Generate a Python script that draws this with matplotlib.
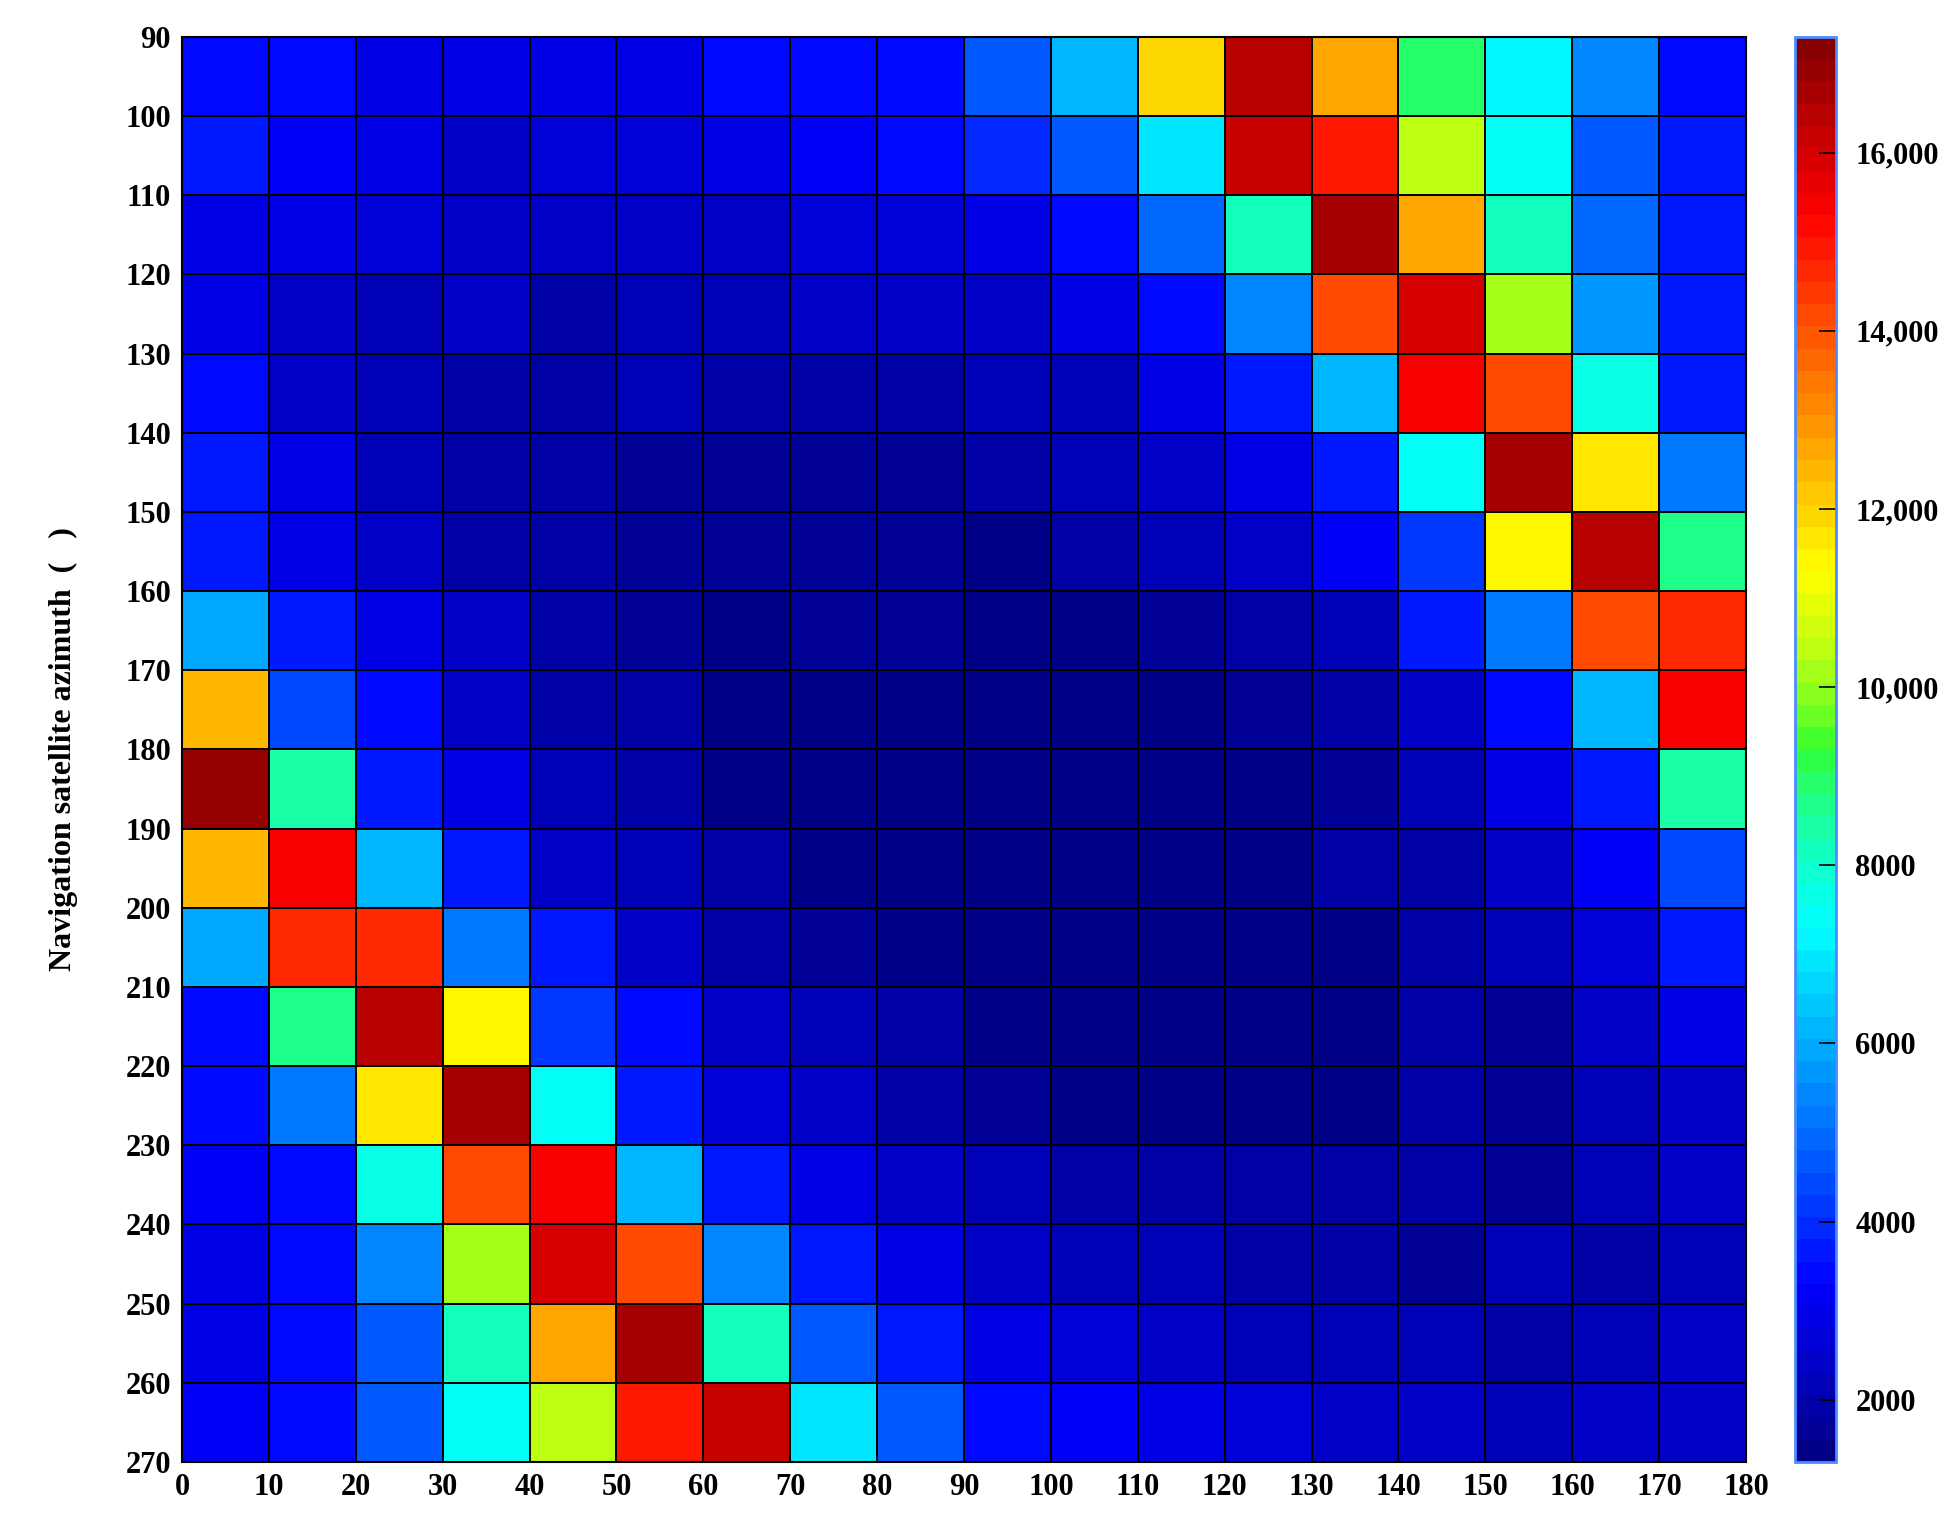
import matplotlib.pyplot as plt
import matplotlib.ticker as mticker
from matplotlib.colors import ListedColormap, rgb_to_hsv, hsv_to_rgb
import numpy as np

# azimuth bins (deg)
x_edges = list(range(0, 190, 10))
y_edges = list(range(90, 280, 10))

# counts per cell, rows 90->270 (top to bottom), cols 0->180
row_090 = [3500, 3300, 3000, 3000, 3000, 3000, 3300, 3500, 3500, 4550, 6050, 12000, 16400, 12750, 8900, 7050, 5300, 3500]
row_100 = [3600, 3200, 2800, 2500, 2600, 2600, 2800, 3100, 3500, 3800, 4550, 6800, 16100, 14800, 10500, 7300, 4750, 3600]
row_110 = [3000, 2800, 2600, 2300, 2400, 2400, 2300, 2600, 2700, 3000, 3400, 4800, 8150, 16750, 12750, 8150, 4800, 3600]
row_120 = [2900, 2500, 2200, 2400, 2000, 2100, 2100, 2300, 2300, 2400, 2900, 3500, 5300, 14050, 15800, 10250, 5550, 3600]
row_130 = [3400, 2300, 2100, 1900, 2000, 2100, 2000, 2000, 1900, 2100, 2200, 2900, 3600, 6100, 15300, 14050, 7700, 3600]
row_140 = [3600, 2800, 2100, 2000, 1900, 1600, 1600, 1600, 1600, 1800, 2100, 2300, 3000, 3600, 7300, 16750, 11700, 5200]
row_150 = [3600, 2900, 2300, 2000, 1900, 1600, 1600, 1600, 1700, 1500, 1800, 2100, 2300, 3200, 4200, 11450, 16400, 8650]
row_160 = [5900, 3600, 2800, 2300, 1900, 1600, 1500, 1600, 1600, 1500, 1500, 1700, 2000, 2200, 3600, 5100, 14050, 14700]
row_170 = [12300, 4500, 3400, 2400, 1800, 1900, 1500, 1500, 1500, 1500, 1500, 1400, 1700, 1900, 2400, 3500, 6050, 15300]
row_180 = [17000, 8300, 3600, 2900, 2200, 2000, 1500, 1500, 1500, 1500, 1500, 1500, 1500, 1700, 2100, 2900, 3600, 8300]
row_190 = [12300, 15300, 6050, 3600, 2400, 2100, 1800, 1500, 1500, 1500, 1500, 1500, 1500, 1800, 1800, 2300, 3200, 4500]
row_200 = [5900, 14700, 14700, 5100, 3600, 2300, 2000, 1700, 1500, 1500, 1500, 1500, 1500, 1400, 1800, 2200, 2600, 3600]
row_210 = [3500, 8650, 16400, 11450, 4200, 3300, 2400, 2200, 1800, 1500, 1500, 1500, 1500, 1400, 1900, 1700, 2300, 2800]
row_220 = [3500, 5100, 11700, 16750, 7300, 3600, 2600, 2300, 1900, 1700, 1500, 1500, 1500, 1400, 1800, 1700, 2100, 2500]
row_230 = [3200, 3400, 7700, 14050, 15300, 6050, 3600, 2900, 2300, 2100, 1800, 1900, 1900, 1800, 1800, 1700, 2100, 2300]
row_240 = [2900, 3500, 5500, 10250, 15800, 14050, 5400, 3600, 2900, 2300, 2100, 2200, 1900, 1800, 1700, 2100, 2000, 2200]
row_250 = [2900, 3500, 4750, 8150, 12750, 16750, 8150, 4750, 3600, 3000, 2700, 2400, 2200, 2100, 2100, 1900, 2200, 2400]
row_260 = [3200, 3500, 4750, 7300, 10500, 14800, 16100, 6800, 4550, 3500, 3200, 2900, 2600, 2300, 2300, 2100, 2300, 2400]

counts = np.array([row_090, row_100, row_110, row_120, row_130, row_140, row_150, row_160, row_170,
                   row_180, row_190, row_200, row_210, row_220, row_230, row_240, row_250, row_260])

cbar_ticks = [2000, 4000, 6000, 8000, 10000, 12000, 14000, 16000]

# MATLAB-style jet(64), saturation boosted like the source figure
t = (np.arange(64) + 0.5) / 64
jet64 = np.clip(np.stack([np.minimum(4 * t - 1.5, -4 * t + 4.5),
                          np.minimum(4 * t - 0.5, -4 * t + 3.5),
                          np.minimum(4 * t + 0.5, -4 * t + 2.5)], axis=1), 0, 1)
hsv = rgb_to_hsv(jet64)
hsv[:, 1] = hsv[:, 1] ** 0.3
cmap = ListedColormap(hsv_to_rgb(hsv))

plt.rcParams['font.family'] = ['Liberation Serif', 'DejaVu Serif']
plt.rcParams['font.weight'] = 'bold'

fig = plt.figure(figsize=(19.58, 15.28), dpi=100)
ax = fig.add_axes([0.093, 0.0432, 0.7987, 0.9326])
cax = fig.add_axes([0.9167, 0.0432, 0.0210, 0.9326])

mesh = ax.pcolormesh(x_edges, y_edges, counts, cmap=cmap, vmin=1300, vmax=17300,
                     edgecolors='black', linewidth=1.2)
ax.set_xlim(0, 180)
ax.set_ylim(270, 90)
ax.set_xticks(x_edges)
ax.set_yticks(y_edges)
ax.tick_params(length=0, labelsize=22, pad=8)
for lbl in ax.get_xticklabels() + ax.get_yticklabels():
    lbl.set_fontweight('bold')
ax.set_ylabel('Navigation satellite azimuth  (   )', fontsize=23, fontweight='bold', labelpad=34)
for s in ax.spines.values():
    s.set_linewidth(1.5)

cbar = fig.colorbar(mesh, cax=cax, ticks=cbar_ticks)
cbar.ax.yaxis.set_major_formatter(mticker.FuncFormatter(
    lambda v, p: f'{int(v):,}' if v >= 10000 else f'{int(v)}'))
cbar.ax.tick_params(direction='in', length=12, width=1.2, labelsize=22, pad=14)
for lbl in cbar.ax.get_yticklabels():
    lbl.set_fontweight('bold')
cbar.outline.set_edgecolor('#4a8cff')
cbar.outline.set_linewidth(2)

fig.savefig('out.png', dpi=100)
